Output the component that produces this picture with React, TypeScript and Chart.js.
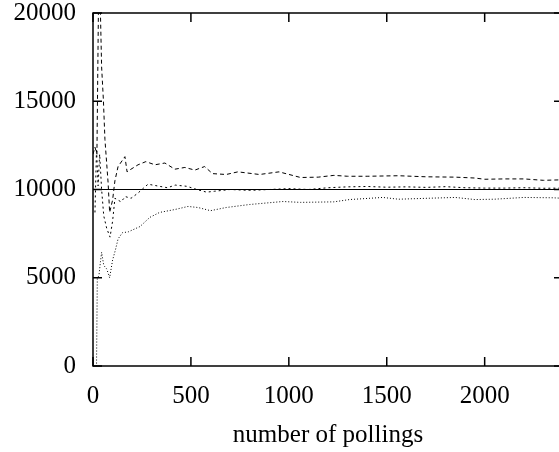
import React, { useEffect, useRef } from "react";
import { Chart, registerables } from "chart.js";

Chart.register(...registerables);

const xTicks = [0, 500, 1000, 1500, 2000];
const yTicks = [0, 5000, 10000, 15000, 20000];
const xTitle = "number of pollings";

const trueValue = 10000;
const truePollings = [0, 2400];

const upperPollings = [0, 10, 20, 28, 36, 44, 53, 61, 77, 85, 100, 112, 128, 163, 174, 194, 230, 270, 316, 367, 418, 469, 520, 570, 610, 680, 740, 850, 950, 1060, 1150, 1230, 1300, 1400, 1560, 1700, 1850, 1950, 2000, 2100, 2200, 2300, 2400];
const upperValues = [12000, 12400, 12000, 20500, 21000, 16950, 15085, 12825, 10400, 8700, 9400, 10500, 11300, 11860, 11000, 11150, 11400, 11580, 11400, 11500, 11150, 11250, 11100, 11300, 10900, 10850, 11000, 10850, 11000, 10680, 10700, 10800, 10750, 10750, 10780, 10720, 10700, 10650, 10580, 10600, 10600, 10520, 10550];

const middlePollings = [10, 18, 26, 34, 44, 55, 70, 87, 100, 112, 128, 143, 165, 194, 230, 260, 281, 330, 380, 420, 480, 530, 580, 620, 700, 800, 900, 1000, 1100, 1200, 1300, 1400, 1500, 1600, 1700, 1800, 1900, 2000, 2100, 2200, 2300, 2400];
const middleValues = [8700, 12300, 10200, 12000, 10000, 8500, 7800, 7300, 8200, 9500, 9400, 9300, 9600, 9500, 9800, 10100, 10300, 10200, 10100, 10250, 10180, 10000, 9850, 9900, 10000, 9950, 10000, 10050, 10000, 10100, 10150, 10170, 10130, 10150, 10120, 10160, 10100, 10080, 10080, 10100, 10070, 10080];

const lowerPollings = [0, 18, 22, 30, 38, 44, 55, 70, 85, 100, 115, 128, 150, 180, 240, 290, 340, 420, 485, 536, 600, 680, 800, 970, 1060, 1230, 1310, 1480, 1560, 1700, 1850, 1950, 2050, 2200, 2350, 2400];
const lowerValues = [0, 0, 5000, 5100, 5900, 6440, 5700, 5500, 5000, 6000, 6600, 7200, 7550, 7600, 7900, 8420, 8700, 8870, 9040, 8980, 8800, 8980, 9150, 9320, 9270, 9300, 9430, 9550, 9450, 9500, 9550, 9430, 9450, 9550, 9530, 9500];

const toPoints = (xs: number[], ys: number[]) => xs.map((x, i) => ({ x, y: ys[i] }));

const FONT = "'Liberation Serif', 'Times New Roman', serif";

const framePlugin = {
  id: "gnuplotFrame",
  afterDatasetsDraw(chart: any) {
    const { ctx, chartArea } = chart;
    const { left, right, top, bottom } = chartArea;
    const xs = chart.scales.x;
    const ys = chart.scales.y;
    const tl = 9;
    ctx.save();
    ctx.strokeStyle = "#000";
    ctx.lineWidth = 1.5;
    ctx.setLineDash([]);
    ctx.strokeRect(left, top, right - left, bottom - top);
    ctx.beginPath();
    xTicks.forEach((v) => {
      const px = xs.getPixelForValue(v);
      ctx.moveTo(px, bottom);
      ctx.lineTo(px, bottom - tl);
      ctx.moveTo(px, top);
      ctx.lineTo(px, top + tl);
    });
    yTicks.forEach((v) => {
      const py = ys.getPixelForValue(v);
      ctx.moveTo(left, py);
      ctx.lineTo(left + tl, py);
      ctx.moveTo(right, py);
      ctx.lineTo(right - tl, py);
    });
    ctx.stroke();
    ctx.restore();
  },
};

export default function App() {
  const ref = useRef<HTMLCanvasElement | null>(null);

  useEffect(() => {
    if (!ref.current) return;
    const chart = new Chart(ref.current, {
      type: "line",
      data: {
        datasets: [
          {
            data: toPoints(truePollings, truePollings.map(() => trueValue)),
            borderColor: "#000",
            borderWidth: 1.2,
            pointRadius: 0,
          },
          {
            data: toPoints(upperPollings, upperValues),
            borderColor: "#000",
            borderWidth: 1,
            borderDash: [4, 3],
            pointRadius: 0,
          },
          {
            data: toPoints(middlePollings, middleValues),
            borderColor: "#000",
            borderWidth: 1,
            borderDash: [2, 3],
            pointRadius: 0,
          },
          {
            data: toPoints(lowerPollings, lowerValues),
            borderColor: "#000",
            borderWidth: 1,
            borderDash: [1, 2],
            pointRadius: 0,
          },
        ],
      },
      options: {
        animation: false,
        responsive: false,
        events: [],
        layout: { padding: { top: 13, right: 12, bottom: 2, left: 0 } },
        plugins: { legend: { display: false }, tooltip: { enabled: false } },
        scales: {
          x: {
            type: "linear",
            min: 0,
            max: 2400,
            border: { display: false },
            grid: { display: false, drawTicks: false },
            afterBuildTicks: (s: any) => {
              s.ticks = xTicks.map((v) => ({ value: v }));
            },
            afterFit: (s: any) => {
              s.height = 84;
              s.paddingLeft = 0;
              s.paddingRight = 0;
            },
            ticks: {
              color: "#000",
              font: { family: FONT, size: 25 },
              padding: 15,
              maxRotation: 0,
              autoSkip: false,
              callback: (v: any) => String(v),
            },
            title: {
              display: true,
              text: xTitle,
              color: "#000",
              font: { family: FONT, size: 25 },
              padding: 0,
            },
          },
          y: {
            type: "linear",
            min: 0,
            max: 20000,
            border: { display: false },
            grid: { display: false, drawTicks: false },
            afterBuildTicks: (s: any) => {
              s.ticks = yTicks.map((v) => ({ value: v }));
            },
            afterFit: (s: any) => {
              s.width = 93;
              s.paddingTop = 0;
              s.paddingBottom = 0;
            },
            ticks: {
              color: "#000",
              font: { family: FONT, size: 25 },
              padding: 17,
              autoSkip: false,
              callback: (v: any) => String(v),
            },
          },
        },
      },
      plugins: [framePlugin],
    });
    return () => chart.destroy();
  }, []);

  return (
    <div style={{ position: "absolute", left: 0, top: 0, width: 559, height: 452, overflow: "hidden", background: "#fff" }}>
      <canvas ref={ref} width={575} height={452} style={{ display: "block" }} />
    </div>
  );
}
